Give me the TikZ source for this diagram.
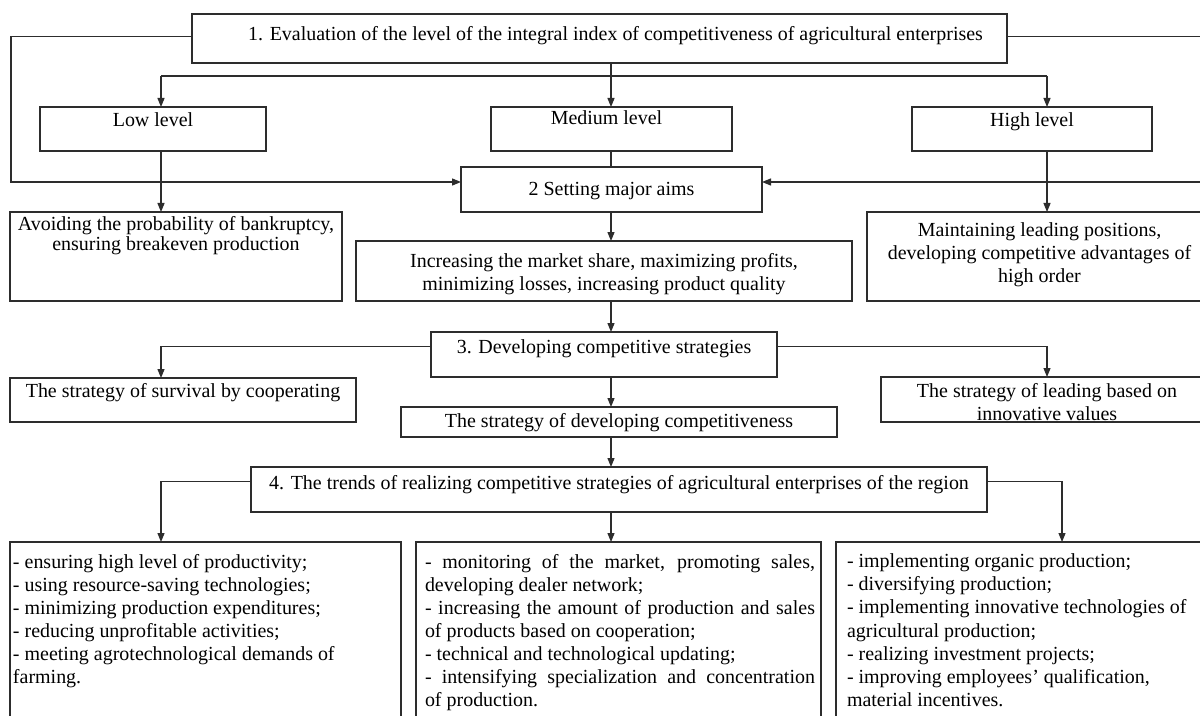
\documentclass[tikz,border=0pt]{standalone}
\usepackage{fontspec}
\setmainfont{Liberation Serif}
\usetikzlibrary{arrows.meta, calc}
\definecolor{boxline}{RGB}{45, 45, 45}
\newlength{\pxu}
\setlength{\pxu}{0.025cm}
\newcommand{\inbox}[4][3]{\parbox[c][#3\pxu][t]{#2\pxu}{\vspace*{#1\pxu}#4\par}}
\newcommand{\offc}[2]{\leftskip=#1\pxu plus 1fil\rightskip=#2\pxu plus 1fil\parfillskip=0pt\relax}
\tikzset{
  box/.style={draw=boxline, line width=0.8pt, inner sep=0pt, outer sep=0pt, anchor=north west,
    font=\fontsize{14.2}{16.4}\selectfont},
  link/.style={draw=boxline, line width=0.8pt},
  >={Triangle[length=6.4pt, width=5pt]}
}

\begin{document}
\begin{tikzpicture}[x=0.025cm, y=-0.025cm]
  \path[use as bounding box, fill=white] (0,0) rectangle (1200,715);
  \clip (0,0) rectangle (1200,715);

  \node[box] (eval) at (192,14) {\inbox[12]{815}{49}{\offc{32}{0}1. Evaluation of the level of the integral index of competitiveness of agricultural enterprises}};
  \node[box] (low) at (40,107) {\inbox[6]{226}{44}{\centering Low level}};
  \node[box] (med) at (491,107) {\inbox[4]{241}{44}{\offc{0}{10}Medium level}};
  \node[box] (high) at (912,107) {\inbox[6]{240}{44}{\centering High level}};
  \node[box] (aims) at (461,167) {\inbox[15]{301}{45}{\centering 2 Setting major aims}};
  \node[box] (avoid) at (10,212) {\inbox[4]{332}{89}{\centering\fontsize{14.2}{14.2}\selectfont
    Avoiding the probability of bankruptcy,\\ ensuring breakeven production}};
  \node[box] (incr) at (356,241) {\inbox[12]{496}{60}{\centering
    Increasing the market share, maximizing profits,\\ minimizing losses, increasing product quality}};
  \node[box] (maint) at (867,212) {\inbox[11]{345}{89}{\centering
    Maintaining leading positions,\\ developing competitive advantages of\\ high order}};
  \node[box] (strat) at (431,332) {\inbox[8]{346}{45}{\centering 3. Developing competitive strategies}};
  \node[box] (surv) at (10,378) {\inbox[5]{346}{44}{\centering The strategy of survival by cooperating}};
  \node[box] (lead) at (881,377) {\inbox[6]{332}{45}{\centering
    The strategy of leading based on\\ innovative values}};
  \node[box] (dev) at (401,407) {\inbox[6]{436}{30}{\centering The strategy of developing competitiveness}};
  \node[box] (trends) at (251,467) {\inbox[8]{736}{45}{\centering
    4. The trends of realizing competitive strategies of agricultural enterprises of the region}};
  \node[box] (lista) at (10,542) {\inbox[12]{391}{190}{\raggedright\leftskip=3\pxu\hyphenpenalty=10000
    - ensuring high level of productivity;\\
    - using resource-saving technologies;\\
    - minimizing production expenditures;\\
    - reducing unprofitable activities;\\
    - meeting agrotechnological demands of\\
    farming.}};
  \node[box] (listb) at (416,542) {\inbox[12]{405}{190}{\leftskip=9\pxu\rightskip=6\pxu\hyphenpenalty=10000
    - monitoring of the market, promoting sales,\linebreak developing dealer network;\par
    - increasing the amount of production and sales\linebreak of products based on cooperation;\par
    - technical and technological updating;\par
    - intensifying specialization and concentration\linebreak of production.}};
  \node[box] (listc) at (836,542) {\inbox[12]{380}{190}{\raggedright\leftskip=11\pxu\hyphenpenalty=10000
    - implementing organic production;\\
    - diversifying production;\\
    - implementing innovative technologies of\\
    agricultural production;\\
    - realizing investment projects;\\
    - improving employees’ qualification,\\
    material incentives.}};

  \coordinate (split) at (611,76);
  \coordinate (xl) at (161,0);
  \coordinate (xr) at (1047,0);
  \coordinate (xb) at (1062,0);
  \coordinate (lbend) at (11,182);
  \coordinate (rbend) at (1210,182);

  \draw[link, ->] ($(eval.west)+(0,-2)$) -| (lbend) -- (lbend -| aims.west);
  \draw[link, ->] ($(eval.east)+(0,-2)$) -| (rbend) -- (rbend -| aims.east);
  \draw[link] (split |- eval.south) -- (split);
  \draw[link] (xl |- split) -- (xr |- split);
  \draw[link, ->] (xl |- split) -- (xl |- low.north);
  \draw[link, ->] (split) -- (split |- med.north);
  \draw[link, ->] (xr |- split) -- (xr |- high.north);
  \draw[link] (split |- med.south) -- (split |- aims.north);
  \draw[link, ->] (xl |- low.south) -- (xl |- avoid.north);
  \draw[link, ->] (xr |- high.south) -- (xr |- maint.north);
  \draw[link, ->] (split |- aims.south) -- (split |- incr.north);
  \draw[link, ->] (split |- incr.south) -- (split |- strat.north);
  \draw[link, ->] ($(strat.west)+(0,-8)$) -| (xl |- surv.north);
  \draw[link, ->] ($(strat.east)+(0,-8)$) -| (xr |- lead.north);
  \draw[link, ->] (split |- strat.south) -- (split |- dev.north);
  \draw[link, ->] (split |- dev.south) -- (split |- trends.north);
  \draw[link, ->] ($(trends.west)+(0,-8)$) -| (xl |- lista.north);
  \draw[link, ->] ($(trends.east)+(0,-8)$) -| (xb |- listc.north);
  \draw[link, ->] (split |- trends.south) -- (split |- listb.north);
\end{tikzpicture}
\end{document}
